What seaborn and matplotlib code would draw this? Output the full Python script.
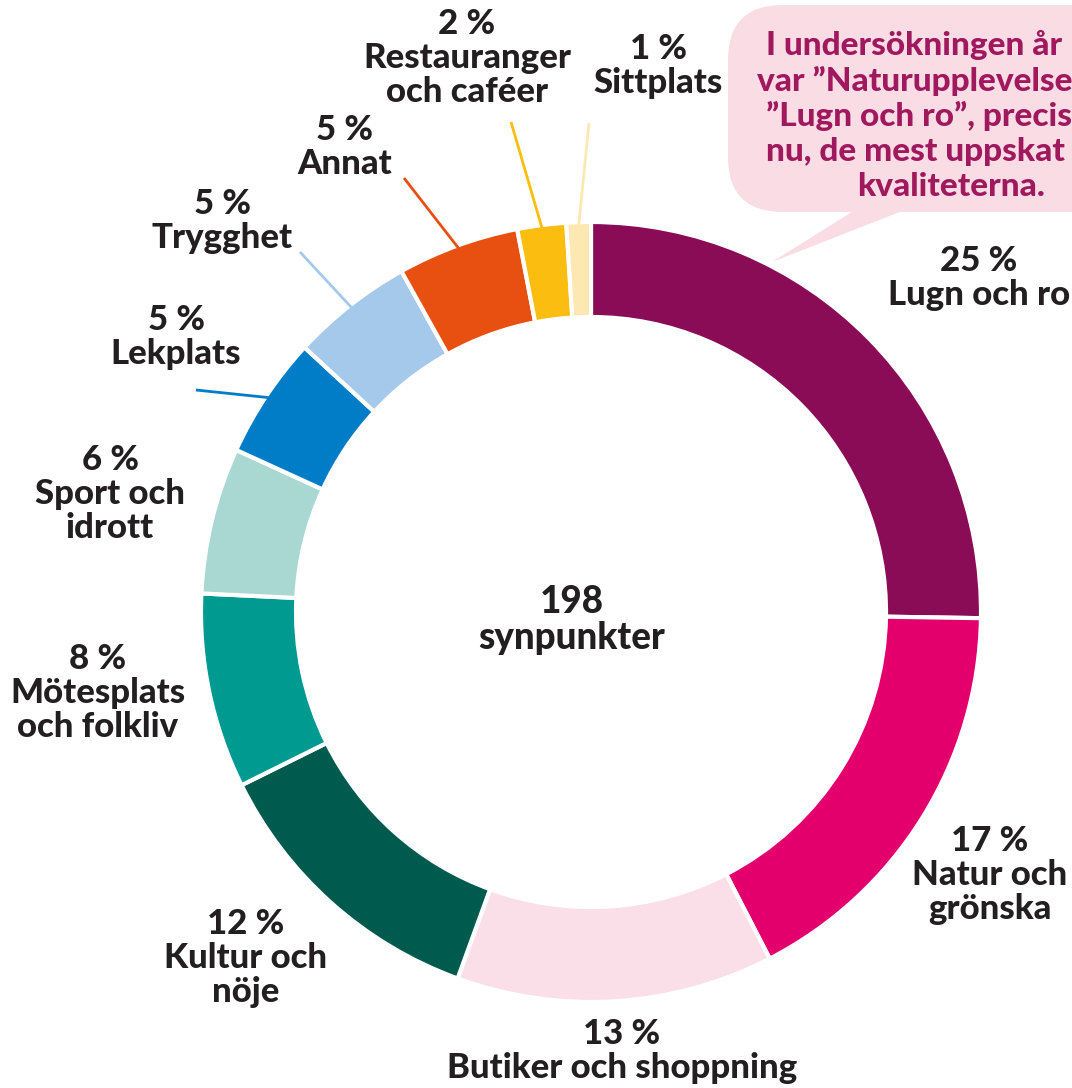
import matplotlib
matplotlib.use("Agg")
import matplotlib.pyplot as plt
import numpy as np
import seaborn as sns
from matplotlib.patches import FancyBboxPatch, Polygon

# Share of comments per category (percent), clockwise from 12 o'clock
categories = [
    "Lugn och ro", "Natur och grönska", "Butiker och shoppning",
    "Kultur och nöje", "Mötesplats och folkliv", "Sport och idrott",
    "Lekplats", "Trygghet", "Annat", "Restauranger och caféer", "Sittplats",
]
percent = [25, 17, 13, 12, 8, 6, 5, 5, 5, 2, 1]
label_text = [
    "Lugn och ro", "Natur och\ngrönska", "Butiker och shoppning",
    "Kultur och\nnöje", "Mötesplats\noch folkliv", "Sport och\nidrott",
    "Lekplats", "Trygghet", "Annat", "Restauranger\noch caféer", "Sittplats",
]
colors = [
    "#8A0C56", "#E4006C", "#FADFE8", "#005A4E", "#009A91", "#A9D8D3",
    "#007DC6", "#A5C9EB", "#E85011", "#FBBD0F", "#FDE8B1",
]
total_comments = 198
center_caption = "synpunkter"
bubble_lines = [
    "I undersökningen år",
    "var \u201dNaturupplevelse",
    "\u201dLugn och ro\u201d, precis",
    "nu, de mest uppskat",
    "kvaliteterna.",
]

W, H = 1072, 1088
CX, CY, R, RING = 591, 612, 390, 95
TEXT = "#231F20"

# label anchors (pixels) and optional leader-line end
label_pos = {
    "Lugn och ro": (979, 278, None),
    "Natur och grönska": (990, 875, None),
    "Butiker och shoppning": (622, 1051, None),
    "Kultur och nöje": (246, 958, None),
    "Mötesplats och folkliv": (98, 693, None),
    "Sport och idrott": (110, 494, None),
    "Lekplats": (176, 337, (196, 390)),
    "Trygghet": (222, 221, (300, 252)),
    "Annat": (345, 147, (404, 178)),
    "Restauranger och caféer": (467, 58, (511, 122)),
    "Sittplats": (658, 66, (589, 123)),
}

sns.set_theme(style="white")
plt.rcParams["font.family"] = ["Lato", "DejaVu Sans"]

fig = plt.figure(figsize=(W / 100, H / 100), dpi=100)
ax = fig.add_axes([0, 0, 1, 1])

# y axis runs downward, so counterclock=True draws clockwise on screen
ax.pie(
    percent, colors=colors, center=(CX, CY), radius=R,
    startangle=-90, counterclock=True,
    wedgeprops=dict(width=RING, edgecolor="white", linewidth=3),
)
ax.set_xlim(0, W)
ax.set_ylim(H, 0)
ax.set_aspect("equal")
ax.axis("off")

cum = np.cumsum(percent) / np.sum(percent)
mids = cum - np.array(percent) / np.sum(percent) / 2
for cat, txt, pct, col, m in zip(categories, label_text, percent, colors, mids):
    x, y, line_end = label_pos[cat]
    ax.text(x, y, f"{pct} %\n{txt}", ha="center", va="center",
            fontsize=25, fontweight="black", color=TEXT, linespacing=1.08)
    if line_end is not None:
        ang = -np.pi / 2 + 2 * np.pi * m
        sx, sy = CX + (R - 3) * np.cos(ang), CY + (R - 3) * np.sin(ang)
        ax.plot([sx, line_end[0]], [sy, line_end[1]], color=col, lw=2,
                solid_capstyle="butt")

ax.text(572, 620, f"{total_comments}\n{center_caption}", ha="center",
        va="center", fontsize=26.5, fontweight="black", color=TEXT,
        linespacing=1.1)

# speech bubble
bubble_col = "#FADCE4"
ax.add_patch(FancyBboxPatch((728, 5), 420, 207,
                            boxstyle="round,pad=0,rounding_size=55",
                            fc=bubble_col, ec="none", zorder=0))
ax.add_patch(Polygon([(855, 210), (905, 210), (772, 262)],
                     closed=True, fc=bubble_col, ec="none", zorder=0))
bubble_x = [766, 757, 766, 766, 857]
for i, (line, bx) in enumerate(zip(bubble_lines, bubble_x)):
    ax.text(bx, 45 + i * 35.5, line, ha="left", va="center", fontsize=24,
            fontweight="black", color="#A0195F")

fig.savefig("out.png", dpi=100)
